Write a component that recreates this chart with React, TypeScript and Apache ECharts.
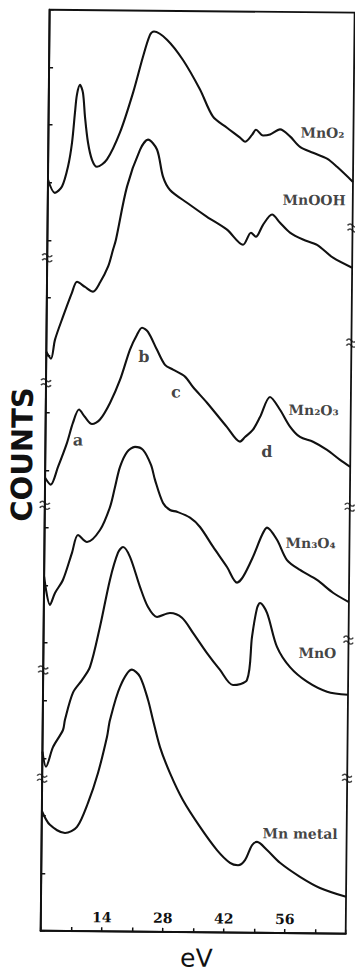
import React, { useEffect, useRef } from "react";
import * as echarts from "echarts";

// Energy-loss spectra of manganese compounds, offset vertically (counts, arbitrary units).
const energyTicks = [14, 28, 42, 56];

const mnO2 = [
  [0, 13.05], [1.6, 12.82], [3.23, 12.93], [4.57, 13.28], [5.43, 13.69], [6.05, 14.22],
  [6.46, 14.53], [7.14, 14.7], [7.84, 14.56], [8.35, 14.15], [9.1, 13.7], [10.06, 13.4],
  [11.22, 13.28], [13.5, 13.41], [16.42, 13.88], [19.32, 14.57], [21.53, 15.2],
  [23.09, 15.58], [24.0, 15.64], [27.0, 15.5], [30.72, 15.15], [34.69, 14.64],
  [37.73, 14.17], [40.97, 13.98], [43.98, 13.81], [45.13, 13.74], [46.73, 13.86],
  [47.63, 13.95], [49.25, 13.85], [50.86, 13.87], [53.14, 13.96], [55.45, 13.84],
  [57.77, 13.66], [60.77, 13.56], [63.99, 13.46], [66.31, 13.32], [70, 13.06],
];

const mnOOH = [
  [0, 10.06], [1.09, 9.94], [1.97, 10.27], [3.75, 10.67], [5.76, 11.09], [6.89, 11.28],
  [8.74, 11.19], [10.58, 11.11], [12.17, 11.27], [14.0, 11.55], [15.08, 11.84],
  [15.74, 12.02], [18.15, 12.94], [21.05, 13.58], [22.87, 13.76], [24.95, 13.59],
  [26.39, 13.12], [28.03, 12.89], [31.96, 12.67], [36.58, 12.43], [41.2, 12.21],
  [44.9, 11.95], [46.71, 12.16], [47.84, 12.09], [49.45, 12.3], [51.5, 12.48],
  [53.35, 12.34], [55.66, 12.17], [58.66, 12.05], [61.89, 11.96], [65.59, 11.74],
  [70, 11.57],
];

const mn2O3 = [
  [0, 7.87], [1.3, 7.75], [2.94, 8.06], [4.95, 8.48], [6.28, 8.83], [7.63, 9.06],
  [9.02, 8.93], [10.65, 8.81], [12.47, 8.89], [14.73, 9.18], [16.97, 9.58], [19.2, 10.11],
  [20.78, 10.37], [21.91, 10.49], [23.29, 10.42], [25.4, 10.11], [27.27, 9.85],
  [29.12, 9.77], [31.88, 9.65], [33.74, 9.47], [36.99, 9.2], [41.64, 8.78], [44.65, 8.53],
  [45.79, 8.61], [47.61, 8.74], [49.19, 8.96], [51.44, 9.31], [53.76, 9.09], [56.09, 8.8],
  [58.41, 8.62], [61.41, 8.54], [64.64, 8.4], [67.65, 8.23], [70, 8.11],
];

const mn3O4 = [
  [0, 6.15], [1.41, 5.66], [2.53, 5.87], [4.34, 6.1], [6.34, 6.57], [7.68, 6.88],
  [9.76, 6.76], [12.72, 6.97], [14.96, 7.37], [16.07, 7.72], [17.17, 8.07], [18.74, 8.33],
  [20.57, 8.42], [22.41, 8.37], [24.28, 8.11], [25.23, 7.85], [27.12, 7.45], [28.74, 7.33],
  [30.35, 7.3], [33.35, 7.2], [35.66, 7.04], [38.69, 6.7], [41.95, 6.35], [44.28, 6.08],
  [45.64, 6.18], [47.89, 6.53], [49.91, 6.91], [51.04, 7.04], [53.36, 6.83], [55.7, 6.48],
  [58.71, 6.31], [62.63, 6.14], [66.33, 5.92], [70, 5.76],
];

const mnO = [
  [0, 3.11], [0.85, 2.85], [2.41, 3.19], [4.67, 3.49], [5.1, 3.67], [6.88, 4.14],
  [8.92, 4.36], [10.73, 4.59], [12.93, 5.29], [15.12, 6.11], [16.9, 6.58], [18.04, 6.68],
  [19.66, 6.51], [22.02, 5.99], [23.91, 5.64], [25.99, 5.47], [28.97, 5.54], [31.73, 5.46],
  [34.29, 5.2], [37.55, 4.85], [40.57, 4.56], [43.59, 4.3], [46.79, 4.39], [47.84, 5.14],
  [48.93, 5.64], [49.6, 5.73], [51.23, 5.56], [53.6, 4.97], [56.63, 4.62], [60.57, 4.37],
  [65.18, 4.2], [70, 4.15],
];

const mnMetal = [
  [0, 2.08], [1.88, 1.84], [5.36, 1.7], [8.1, 1.81], [10.57, 2.23], [12.8, 2.75],
  [14.79, 3.38], [15.43, 3.67], [17.66, 4.25], [20.37, 4.55], [22.23, 4.43], [24.11, 4.03],
  [25.3, 3.68], [26.97, 3.21], [29.32, 2.76], [32.37, 2.29], [36.33, 1.83], [40.28, 1.43],
  [43.3, 1.21], [45.14, 1.17], [46.73, 1.26], [48.3, 1.52], [49.45, 1.58], [51.76, 1.44],
  [54.77, 1.22], [59.39, 0.98], [64.01, 0.79], [70, 0.64],
];

const spectra = [mnO2, mnOOH, mn2O3, mn3O4, mnO, mnMetal];
const compoundNames = ["MnO₂", "MnOOH", "Mn₂O₃", "Mn₃O₄", "MnO", "Mn metal"];
const compoundLabelAt = [
  [57.73, 13.91], [53.76, 12.74], [55.6, 9.09], [55.21, 6.78], [58.43, 4.87], [50.57, 1.73],
];

const featureLetters = ["a", "b", "c", "d"];
const featureLabelAt = [[7.47, 8.53], [22.43, 9.99], [29.86, 9.38], [50.87, 8.36]];

// Axis-break positions on the left (0 eV) and right (70 eV) frame edges.
const leftBreaks = [11.69, 9.52, 7.39, 4.53, 2.65];
const rightBreaks = [12.26, 10.26, 7.41, 5.1, 2.7];

const INK = "#111";
const BREAK_SYMBOL =
  "path://M0,3 Q2.5,0 5,3 T10,3 M0,8 Q2.5,5 5,8 T10,8";

export default function App() {
  const ref = useRef<HTMLDivElement>(null);

  useEffect(() => {
    if (!ref.current) return;
    const chart = echarts.init(ref.current, undefined, { renderer: "svg" });

    const lineSeries = spectra.map((data, i) => ({
      type: "line",
      name: compoundNames[i],
      data,
      smooth: 0.3,
      showSymbol: false,
      symbol: "none",
      silent: true,
      lineStyle: { color: INK, width: 2.1 },
      z: 3,
    }));

    const breakData = [
      ...leftBreaks.map((y) => [0, y]),
      ...rightBreaks.map((y) => [70, y]),
    ];

    chart.setOption({
      animation: false,
      backgroundColor: "#fff",
      grid: {
        left: 45,
        top: 11,
        right: 5,
        bottom: 43,
        show: true,
        borderColor: INK,
        borderWidth: 1.8,
        backgroundColor: "transparent",
      },
      xAxis: {
        type: "value",
        min: 0,
        max: 70,
        interval: 7,
        axisLine: { show: true, lineStyle: { color: INK, width: 2 } },
        axisTick: { show: true, inside: true, length: 4, lineStyle: { color: INK, width: 1.5 } },
        axisLabel: {
          inside: true,
          margin: 7,
          color: INK,
          fontFamily: "DejaVu Serif",
          fontWeight: "bold",
          fontSize: 14,
          formatter: (v: number) => (energyTicks.includes(v) ? String(v) : ""),
        },
        splitLine: { show: false },
      },
      yAxis: {
        type: "value",
        min: 0,
        max: 16,
        interval: 1,
        axisLine: { show: true, lineStyle: { color: INK, width: 2 } },
        axisTick: { show: true, inside: true, length: 4, lineStyle: { color: INK, width: 1.5 } },
        axisLabel: { show: false },
        splitLine: { show: false },
      },
      series: [
        ...lineSeries,
        {
          type: "scatter",
          silent: true,
          data: breakData,
          symbol: BREAK_SYMBOL,
          symbolSize: [10, 8],
          symbolKeepAspect: false,
          itemStyle: { color: "rgba(0,0,0,0)", borderColor: INK, borderWidth: 1.6 },
          clip: false,
          z: 4,
        },
        {
          type: "scatter",
          silent: true,
          data: compoundLabelAt.map((p, i) => ({ value: p, name: compoundNames[i] })),
          symbol: "circle",
          symbolSize: 1,
          itemStyle: { color: "rgba(0,0,0,0)" },
          label: {
            show: true,
            position: "right",
            distance: 0,
            formatter: "{b}",
            color: INK,
            fontFamily: "DejaVu Serif",
            fontWeight: "bold",
            fontSize: 14,
          },
          z: 5,
        },
        {
          type: "scatter",
          silent: true,
          data: featureLabelAt.map((p, i) => ({ value: p, name: featureLetters[i] })),
          symbol: "circle",
          symbolSize: 1,
          itemStyle: { color: "rgba(0,0,0,0)" },
          label: {
            show: true,
            position: "inside",
            formatter: "{b}",
            color: INK,
            fontFamily: "DejaVu Serif",
            fontWeight: "bold",
            fontSize: 16,
          },
          z: 5,
        },
      ],
      graphic: [
        {
          type: "text",
          x: 22,
          y: 456,
          rotation: Math.PI / 2,
          style: {
            text: "COUNTS",
            fill: INK,
            font: "bold 29px 'DejaVu Sans'",
            textAlign: "center",
            textVerticalAlign: "middle",
          },
        },
        {
          type: "text",
          x: 201,
          y: 958,
          style: {
            text: "eV",
            fill: INK,
            font: "25px 'DejaVu Sans'",
            textAlign: "center",
            textVerticalAlign: "middle",
          },
        },
      ],
    });

    return () => chart.dispose();
  }, []);

  return (
    <div
      style={{
        position: "fixed",
        left: 0,
        top: 0,
        width: 355,
        height: 975,
        overflow: "hidden",
        background: "#fff",
      }}
    >
      <div
        ref={ref}
        style={{
          position: "absolute",
          left: 0,
          top: 0,
          width: 355,
          height: 975,
          transform: "rotate(0.556deg)",
          transformOrigin: "177.5px 487.5px",
        }}
      />
    </div>
  );
}
